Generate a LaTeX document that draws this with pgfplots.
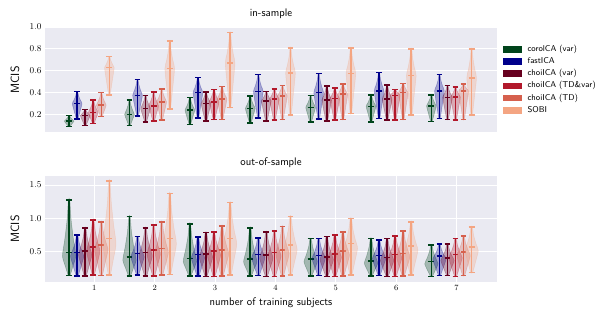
\documentclass[border=0pt]{standalone}
\usepackage{pgfplots}
\pgfplotsset{compat=1.18}

\definecolor{c0}{HTML}{00441B}
\definecolor{c1}{HTML}{00008B}
\definecolor{c2}{HTML}{67001F}
\definecolor{c3}{HTML}{B2182B}
\definecolor{c4}{HTML}{D6604D}
\definecolor{c5}{HTML}{F4A582}
\definecolor{bgc}{HTML}{EAEAF2}

% violin half width and position of the widest part (fraction from min to median)
\newcommand\vw{0.08}
\newcommand\vmf{1}
% \vio{group}{hue}{min}{median}{max}
\newcommand\vio[5]{%
  \pgfmathsetmacro\vx{#1-0.4167+#2*0.1333}%
  \pgfmathsetmacro\vmo{#3+\vmf*(#4-#3)}%
  \pgfmathsetmacro\ya{#3+0.5*(\vmo-#3)}%
  \pgfmathsetmacro\yb{\vmo+0.3*(#5-\vmo)}%
  \pgfmathsetmacro\yc{\vmo+0.65*(#5-\vmo)}%
  \pgfmathsetmacro\lA{\vx-0.15*\vw}\pgfmathsetmacro\rA{\vx+0.15*\vw}%
  \pgfmathsetmacro\lB{\vx-0.6*\vw}\pgfmathsetmacro\rB{\vx+0.6*\vw}%
  \pgfmathsetmacro\lC{\vx-\vw}\pgfmathsetmacro\rC{\vx+\vw}%
  \pgfmathsetmacro\lD{\vx-0.65*\vw}\pgfmathsetmacro\rD{\vx+0.65*\vw}%
  \pgfmathsetmacro\lE{\vx-0.3*\vw}\pgfmathsetmacro\rE{\vx+0.3*\vw}%
  \pgfmathsetmacro\lF{\vx-0.1*\vw}\pgfmathsetmacro\rF{\vx+0.1*\vw}%
  \pgfmathsetmacro\cl{\vx-0.048}\pgfmathsetmacro\cR{\vx+0.048}%
  \addplot[forget plot, draw=c#2, fill=c#2, fill opacity=0.3, draw opacity=0.3,
    line width=0.5pt, smooth, tension=0.4] coordinates {
    (\lA,#3) (\rA,#3) (\rB,\ya) (\rC,\vmo) (\rD,\yb) (\rE,\yc) (\rF,#5)
    (\lF,#5) (\lE,\yc) (\lD,\yb) (\lC,\vmo) (\lB,\ya) (\lA,#3)};
  \addplot[forget plot, c#2, line width=1.6pt, unbounded coords=jump] coordinates {
    (\vx,#3) (\vx,#5) (nan,nan) (\cl,#3) (\cR,#3) (nan,nan)
    (\cl,#5) (\cR,#5) (nan,nan) (\cl,#4) (\cR,#4)};
}

\pgfplotsset{vstyle/.style={
  scale only axis, width=452bp,
  xmin=0.184, xmax=7.67,
  axis background/.style={fill=bgc},
  axis line style={draw=none},
  major tick length=0pt,
  grid style={white, line width=0.9pt},
  tick label style={font=\small},
  yticklabel style={/pgf/number format/.cd, fixed, fixed zerofill, precision=1},
}}

\begin{document}
\begin{tikzpicture}
\useasboundingbox (0,0) rectangle (610bp,320bp);

\begin{axis}[vstyle, at={(45bp,188bp)}, anchor=south west, height=105bp,
  ymin=0.04, ymax=1.0, ytick={0.2,0.4,0.6,0.8,1.0}, xtick=\empty,
  ymajorgrids=true,
  legend cell align=left,
  legend style={draw=none, fill=none, at={(axis description cs:1,0.5)}, anchor=west,
    xshift=6bp, inner sep=0pt, row sep=4.7bp, column sep=6bp,
    font=\sffamily\fontsize{8.5}{10}\selectfont,
    nodes={inner sep=0pt, text height=6bp, text depth=1.5bp}},
  legend image code/.code={\fill[#1] (0bp,-2.8bp) rectangle (18bp,2.8bp);},
]
\addlegendimage{c0, fill=c0}\addlegendentry{corolCA (var)}
\addlegendimage{c1, fill=c1}\addlegendentry{fastICA}
\addlegendimage{c2, fill=c2}\addlegendentry{choiICA (var)}
\addlegendimage{c3, fill=c3}\addlegendentry{choiICA (TD\&var)}
\addlegendimage{c4, fill=c4}\addlegendentry{choiICA (TD)}
\addlegendimage{c5, fill=c5}\addlegendentry{SOBI}
\renewcommand\vw{0.08}\renewcommand\vmf{1}
\vio{1}{0}{0.09}{0.14}{0.19}
\vio{1}{1}{0.157}{0.30}{0.41}
\vio{1}{2}{0.10}{0.19}{0.245}
\vio{1}{3}{0.118}{0.218}{0.33}
\vio{1}{4}{0.18}{0.285}{0.40}
\vio{1}{5}{0.38}{0.63}{0.73}
\vio{2}{0}{0.10}{0.20}{0.33}
\vio{2}{1}{0.185}{0.375}{0.52}
\vio{2}{2}{0.13}{0.255}{0.375}
\vio{2}{3}{0.14}{0.28}{0.405}
\vio{2}{4}{0.15}{0.315}{0.435}
\vio{2}{5}{0.25}{0.62}{0.87}
\vio{3}{0}{0.11}{0.24}{0.355}
\vio{3}{1}{0.17}{0.40}{0.54}
\vio{3}{2}{0.14}{0.30}{0.405}
\vio{3}{3}{0.155}{0.315}{0.43}
\vio{3}{4}{0.155}{0.34}{0.455}
\vio{3}{5}{0.265}{0.67}{0.95}
\vio{4}{0}{0.12}{0.255}{0.37}
\vio{4}{1}{0.17}{0.41}{0.565}
\vio{4}{2}{0.14}{0.325}{0.41}
\vio{4}{3}{0.15}{0.34}{0.435}
\vio{4}{4}{0.155}{0.37}{0.465}
\vio{4}{5}{0.195}{0.58}{0.81}
\vio{5}{0}{0.13}{0.265}{0.375}
\vio{5}{1}{0.16}{0.40}{0.575}
\vio{5}{2}{0.14}{0.33}{0.46}
\vio{5}{3}{0.15}{0.345}{0.44}
\vio{5}{4}{0.155}{0.385}{0.48}
\vio{5}{5}{0.21}{0.575}{0.81}
\vio{6}{0}{0.133}{0.275}{0.38}
\vio{6}{1}{0.165}{0.415}{0.585}
\vio{6}{2}{0.15}{0.34}{0.47}
\vio{6}{3}{0.15}{0.375}{0.43}
\vio{6}{4}{0.155}{0.40}{0.485}
\vio{6}{5}{0.195}{0.555}{0.80}
\vio{7}{0}{0.135}{0.28}{0.38}
\vio{7}{1}{0.165}{0.415}{0.565}
\vio{7}{2}{0.155}{0.355}{0.465}
\vio{7}{3}{0.15}{0.36}{0.45}
\vio{7}{4}{0.155}{0.415}{0.48}
\vio{7}{5}{0.195}{0.535}{0.80}
\end{axis}

\begin{axis}[vstyle, at={(45bp,38bp)}, anchor=south west, height=106bp,
  ymin=0.05, ymax=1.634, ytick={0.5,1.0,1.5},
  xtick={1,2,3,4,5,6,7}, xticklabel style={font=\footnotesize},
  xmajorgrids=true, ymajorgrids=true,
]
\renewcommand\vw{0.11}\renewcommand\vmf{0.85}
\vio{1}{0}{0.15}{0.49}{1.276}
\vio{1}{1}{0.14}{0.49}{0.75}
\vio{1}{2}{0.14}{0.51}{0.86}
\vio{1}{3}{0.155}{0.57}{0.98}
\vio{1}{4}{0.15}{0.60}{0.95}
\vio{1}{5}{0.155}{0.70}{1.555}
\vio{2}{0}{0.14}{0.42}{1.027}
\vio{2}{1}{0.155}{0.475}{0.73}
\vio{2}{2}{0.14}{0.49}{0.86}
\vio{2}{3}{0.14}{0.525}{0.90}
\vio{2}{4}{0.155}{0.55}{0.95}
\vio{2}{5}{0.165}{0.70}{1.37}
\vio{3}{0}{0.14}{0.40}{0.92}
\vio{3}{1}{0.14}{0.46}{0.72}
\vio{3}{2}{0.135}{0.47}{0.79}
\vio{3}{3}{0.135}{0.51}{0.80}
\vio{3}{4}{0.14}{0.53}{0.89}
\vio{3}{5}{0.155}{0.70}{1.235}
\vio{4}{0}{0.14}{0.39}{0.86}
\vio{4}{1}{0.15}{0.46}{0.71}
\vio{4}{2}{0.135}{0.455}{0.80}
\vio{4}{3}{0.135}{0.49}{0.81}
\vio{4}{4}{0.14}{0.53}{0.88}
\vio{4}{5}{0.155}{0.60}{1.03}
\vio{5}{0}{0.14}{0.39}{0.70}
\vio{5}{1}{0.15}{0.445}{0.70}
\vio{5}{2}{0.135}{0.425}{0.73}
\vio{5}{3}{0.135}{0.47}{0.755}
\vio{5}{4}{0.14}{0.51}{0.80}
\vio{5}{5}{0.155}{0.625}{1.0}
\vio{6}{0}{0.14}{0.365}{0.70}
\vio{6}{1}{0.15}{0.445}{0.68}
\vio{6}{2}{0.135}{0.415}{0.70}
\vio{6}{3}{0.135}{0.46}{0.74}
\vio{6}{4}{0.14}{0.475}{0.81}
\vio{6}{5}{0.155}{0.59}{0.95}
\vio{7}{0}{0.135}{0.355}{0.60}
\vio{7}{1}{0.15}{0.435}{0.615}
\vio{7}{2}{0.15}{0.41}{0.615}
\vio{7}{3}{0.135}{0.46}{0.70}
\vio{7}{4}{0.145}{0.50}{0.735}
\vio{7}{5}{0.19}{0.575}{0.875}
\end{axis}

\node[font=\sffamily\fontsize{11}{13}\selectfont] at (271bp,306bp) {in-sample};
\node[font=\sffamily\fontsize{11}{13}\selectfont] at (271bp,157bp) {out-of-sample};
\node[font=\sffamily\fontsize{12}{14}\selectfont, rotate=90] at (15bp,240bp) {MCIS};
\node[font=\sffamily\fontsize{12}{14}\selectfont, rotate=90] at (15bp,91bp) {MCIS};
\node[font=\sffamily\fontsize{11}{13}\selectfont] at (271bp,17bp) {number of training subjects};
\end{tikzpicture}
\end{document}
